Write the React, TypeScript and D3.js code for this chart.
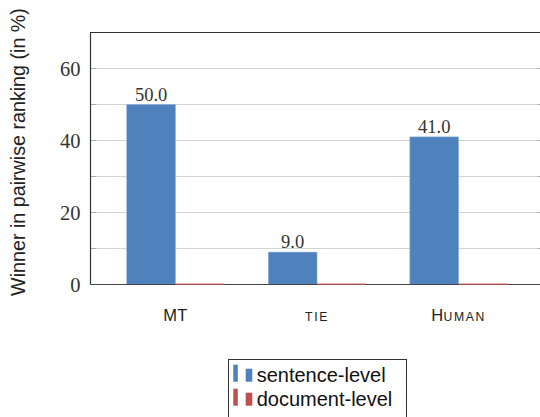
import React from "react";
import * as d3 from "d3";

const categories = ["MT", "tie", "Human"];
const sentenceLevel = [50.0, 9.0, 41.0];
const documentLevel = [0, 0, 0];
const yTicks = [0, 20, 40, 60];
const yGrid = [0, 10, 20, 30, 40, 50, 60];
const legendLabels = ["sentence-level", "document-level"];

const W = 540;
const H = 417;
const left = 90.5;
const right = 543.5;
const top = 32.5;
const bottom = 284.5;
const BLUE = "#4f81bd";
const BLUE_EDGE = "#8fb0d8";
const RED = "#c0504d";
const SANS = "'Liberation Sans', Arial, sans-serif";
const SERIF = "'Liberation Serif', 'Times New Roman', serif";

// small caps rendering: uppercase letters big, lowercase letters as small uppercase
function smallCaps(s: string) {
  const parts: { t: string; small: boolean }[] = [];
  for (const ch of s) {
    const small = ch !== ch.toUpperCase();
    const last = parts[parts.length - 1];
    if (last && last.small === small) last.t += ch;
    else parts.push({ t: ch, small });
  }
  return parts.map((p, i) => (
    <tspan
      key={i}
      fontSize={p.small ? 12.2 : 16.5}
      letterSpacing={p.small ? 1.6 : 0.3}
    >
      {p.small ? p.t.toUpperCase() : p.t}
    </tspan>
  ));
}

export default function App() {
  const x = d3.scaleBand<string>().domain(categories).range([left, right]).paddingInner(0).paddingOuter(0.1);
  const y = d3.scaleLinear().domain([0, 70]).range([bottom, top]);
  const barW = x.bandwidth() * 0.344;
  const center = (c: string) => (x(c) as number) + x.bandwidth() / 2;

  return (
    <svg width={W} height={H} style={{ position: "absolute", left: 0, top: 0 }}>
      <rect width={W} height={H} fill="#fff" />
      {yGrid.map((v) => (
        <g key={v}>
          <line x1={left} x2={right} y1={y(v)} y2={y(v)} stroke="#d4d4d4" strokeWidth={1} />
          <line x1={left} x2={left + 6} y1={y(v)} y2={y(v)} stroke="#aaa" strokeWidth={1} />
          <line x1={right - 6} x2={right} y1={y(v)} y2={y(v)} stroke="#aaa" strokeWidth={1} />
        </g>
      ))}
      {categories.map((c, i) => (
        <g key={c}>
          <rect
            x={center(c) - barW}
            y={y(sentenceLevel[i])}
            width={barW}
            height={y(0) - y(sentenceLevel[i])}
            fill={BLUE}
            stroke={BLUE_EDGE}
            strokeWidth={0.6}
          />
        </g>
      ))}
      {/* frame */}
      <path d={`M${right},${top}H${left}V${bottom}`} fill="none" stroke="#333" strokeWidth={1.2} />
      <line x1={left} x2={right} y1={bottom} y2={bottom} stroke="#444" strokeWidth={1.2} />
      {categories.map((c, i) => (
        <rect
          key={"r" + c}
          x={center(c)}
          y={y(documentLevel[i]) - 1}
          width={barW}
          height={y(0) - y(documentLevel[i]) + 1.5}
          fill={RED}
          opacity={0.8}
        />
      ))}
      {categories.map((c, i) => (
        <text
          key={"v" + c}
          x={center(c) - barW / 2}
          y={y(sentenceLevel[i]) - 4}
          textAnchor="middle"
          fontFamily={SERIF}
          fontSize={18.5}
          fill="#333"
        >
          {sentenceLevel[i].toFixed(1)}
        </text>
      ))}
      {yTicks.map((v) => (
        <text key={"t" + v} x={left - 10} y={y(v) + 7} textAnchor="end" fontFamily={SERIF} fontSize={20.5} fill="#333">
          {v}
        </text>
      ))}
      {categories.map((c) => (
        <text key={"x" + c} x={center(c)} y={321} textAnchor="middle" fontFamily={SANS} fontSize={16.5} fill="#222">
          {smallCaps(c)}
        </text>
      ))}
      <text
        transform={`translate(25,152) rotate(-90)`}
        textAnchor="middle"
        fontFamily={SANS}
        fontSize={19.7}
        fill="#222"
      >
        Winner in pairwise ranking (in %)
      </text>
      {/* legend */}
      <rect x={228.5} y={359.5} width={178} height={70} fill="#fff" stroke="#333" strokeWidth={1} />
      {legendLabels.map((l, i) => {
        const base = 381.7 + i * 24;
        const col = i === 0 ? BLUE : RED;
        return (
          <g key={l}>
            <rect x={233.3} y={base - 17} width={4.5} height={17} fill={col} />
            <rect x={245.7} y={base - 13} width={6.6} height={13} fill={col} />
            <text x={256.7} y={base} fontFamily={SANS} fontSize={20} fill="#111">
              {l}
            </text>
          </g>
        );
      })}
    </svg>
  );
}
